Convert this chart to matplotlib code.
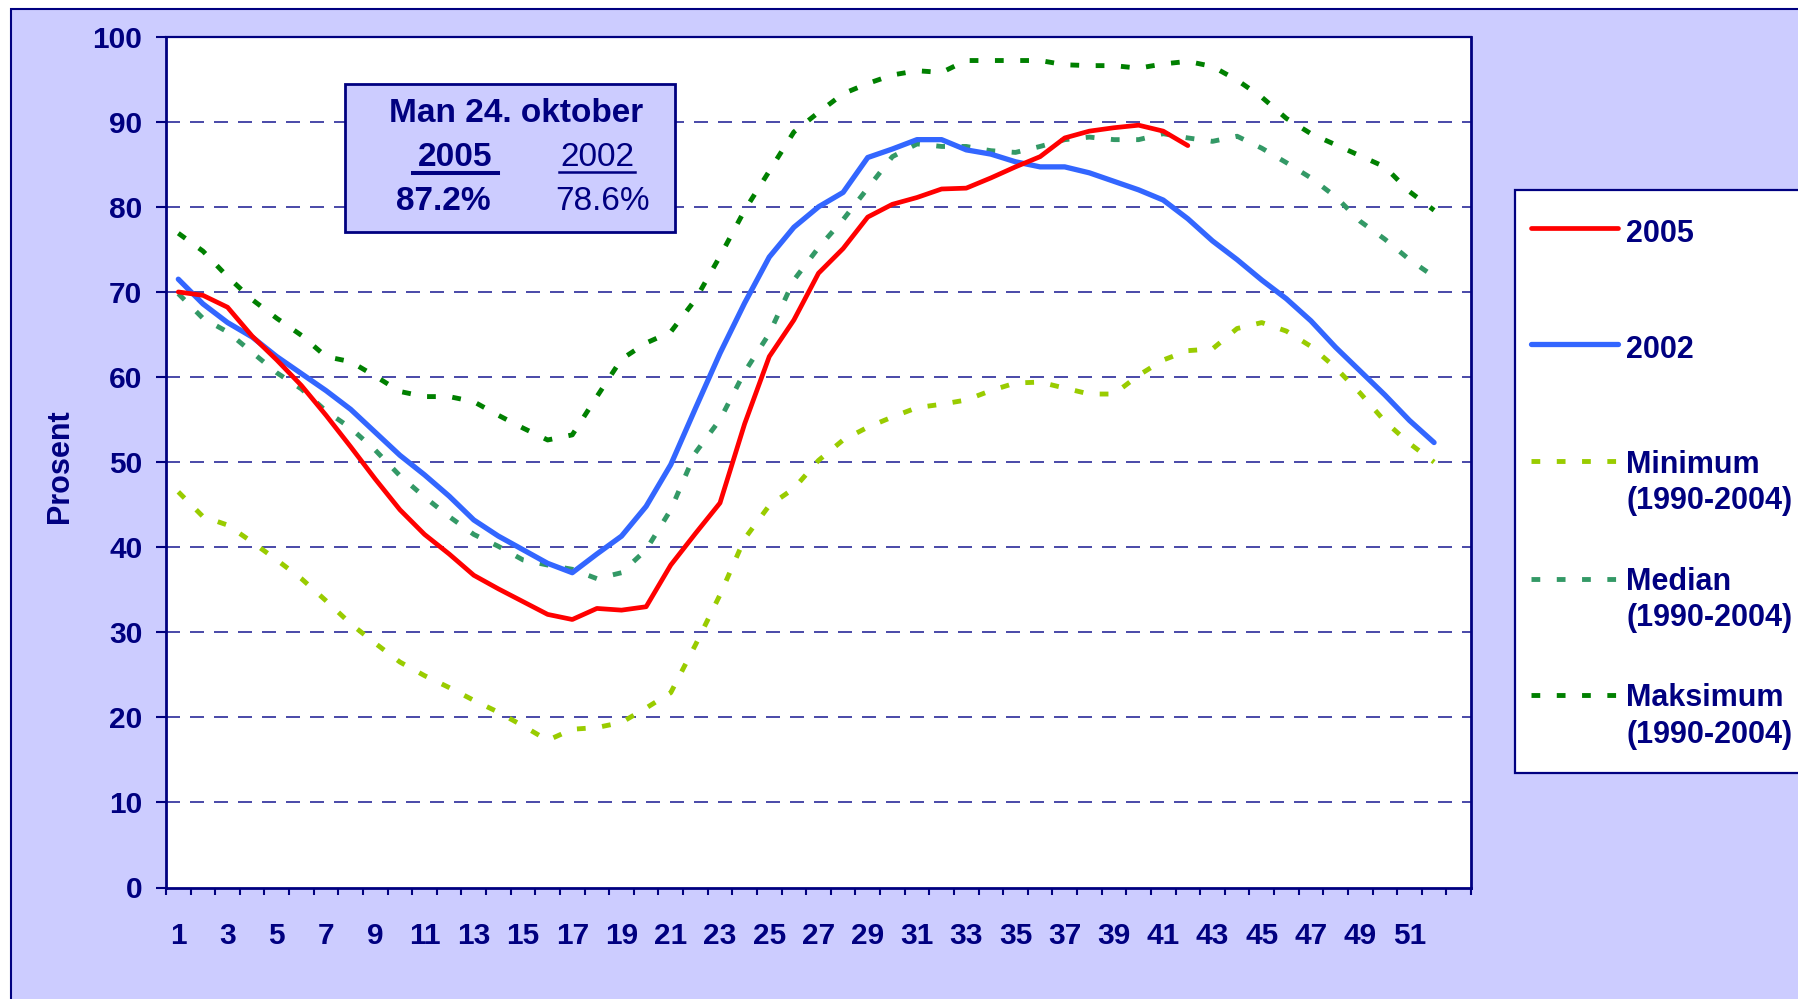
import numpy as np
import matplotlib
matplotlib.use("Agg")
import matplotlib.pyplot as plt
from matplotlib.patches import Rectangle
from matplotlib.lines import Line2D

plt.rcParams['font.family'] = ['Liberation Sans', 'DejaVu Sans']
plt.rcParams['font.weight'] = 'bold'

NAVY = "#000080"
LAVENDER = "#CCCCFF"

# fyllingsgrad per uke (prosent)
weeks = np.arange(1, 53)
weeks_2005 = np.arange(1, 43)

fill_2005 = [70.0, 69.6, 68.2, 64.8, 62.0, 59.0, 55.5, 51.8, 48.0, 44.4,
             41.5, 39.2, 36.7, 35.1, 33.6, 32.1, 31.5, 32.8, 32.6, 33.0,
             37.9, 41.6, 45.2, 54.5, 62.4, 66.7, 72.2, 75.1, 78.8, 80.3,
             81.1, 82.1, 82.2, 83.4, 84.7, 85.9, 88.1, 88.9, 89.3, 89.6,
             88.9, 87.2]

fill_2002 = [71.5, 68.6, 66.4, 64.7, 62.4, 60.4, 58.4, 56.2, 53.5, 50.8,
             48.5, 46.0, 43.2, 41.3, 39.7, 38.1, 37.0, 39.2, 41.3, 44.8,
             49.7, 56.3, 62.8, 68.7, 74.1, 77.6, 80.0, 81.7, 85.8, 86.8,
             87.9, 87.9, 86.7, 86.2, 85.3, 84.7, 84.7, 84.0, 83.0, 82.0,
             80.8, 78.6, 76.0, 73.8, 71.4, 69.2, 66.6, 63.5, 60.7, 57.9,
             54.9, 52.3]

fill_min = [46.5, 43.6, 42.6, 40.6, 38.5, 36.3, 33.7, 31.0, 28.7, 26.5,
            24.9, 23.5, 22.0, 20.6, 19.0, 17.3, 18.6, 18.8, 19.4, 21.1,
            22.9, 28.5, 34.4, 41.0, 44.9, 46.9, 50.2, 52.6, 54.1, 55.3,
            56.4, 56.8, 57.3, 58.4, 59.3, 59.4, 58.7, 58.0, 58.0, 60.2,
            62.0, 63.1, 63.3, 65.7, 66.4, 65.4, 63.6, 61.1, 58.1, 54.8,
            52.2, 50.0]

fill_median = [69.8, 66.9, 65.3, 62.9, 60.5, 58.6, 56.0, 54.0, 51.4, 48.4,
               45.9, 43.6, 41.5, 40.1, 38.5, 37.9, 37.4, 36.3, 37.0, 39.7,
               44.4, 51.1, 55.0, 60.6, 65.1, 71.4, 75.2, 78.5, 82.2, 85.9,
               87.4, 87.1, 87.1, 86.6, 86.4, 87.1, 87.9, 88.2, 87.9, 87.9,
               88.6, 88.1, 87.7, 88.3, 86.9, 85.2, 83.4, 81.2, 78.3, 76.2,
               73.8, 71.8]

fill_max = [76.9, 74.8, 71.8, 69.1, 66.9, 64.9, 62.4, 61.8, 60.1, 58.3,
            57.7, 57.7, 57.1, 55.5, 54.0, 52.6, 53.2, 57.7, 62.1, 64.0,
            65.3, 69.1, 74.2, 79.6, 84.2, 88.8, 91.1, 93.3, 94.5, 95.5,
            96.0, 95.8, 97.2, 97.2, 97.2, 97.2, 96.7, 96.6, 96.6, 96.3,
            96.8, 97.1, 96.5, 94.9, 92.9, 90.4, 88.6, 87.3, 86.0, 84.7,
            81.8, 79.6]

W, H = 1798, 999


def fx(x):
    return x / W


def fy(y):
    return 1 - y / H


fig = plt.figure(figsize=(W / 100, H / 100), dpi=100, facecolor="white")

# lilla bakgrunn rundt diagrammet
fig.add_artist(Rectangle((fx(11), fy(1100)), 2, fy(9) - fy(1100),
                         transform=fig.transFigure, facecolor=LAVENDER,
                         edgecolor=NAVY, lw=1.5, zorder=-5))

ax = fig.add_axes([fx(166), fy(887.5), (1471 - 166) / W, (887.5 - 36.7) / H])
ax.set_facecolor("white")

dash = (0, (1.8, 3.4))
ax.plot(weeks, fill_min, color="#99CC00", lw=3.5, linestyle=dash, zorder=3)
ax.plot(weeks, fill_median, color="#339966", lw=3.5, linestyle=dash, zorder=3)
ax.plot(weeks, fill_max, color="#008000", lw=3.5, linestyle=dash, zorder=3)
ax.plot(weeks, fill_2002, color="#3366FF", lw=3.8, zorder=4,
        solid_capstyle="round", solid_joinstyle="round")
ax.plot(weeks_2005, fill_2005, color="#FF0000", lw=3.4, zorder=5,
        solid_capstyle="round", solid_joinstyle="round")

for v in range(10, 100, 10):
    ax.axhline(v, color="#2a2a99", lw=1.2, linestyle=(0, (8.4, 6.0)), zorder=1)

ax.set_xlim(0.5, 53.5)
ax.set_ylim(0, 100)
ax.set_yticks(range(0, 101, 10))
ax.set_xticks(range(1, 52, 2))
ax.set_xticks(np.arange(0.5, 54, 1), minor=True)
ax.tick_params(axis="x", which="major", length=0, pad=24.5, labelsize=21.5,
               labelcolor=NAVY)
ax.tick_params(axis="x", which="minor", length=5, width=1.5, color=NAVY,
               direction="out")
ax.tick_params(axis="y", length=7, width=1.5, color=NAVY, pad=10,
               labelsize=21.5, labelcolor=NAVY)

for side in ["left", "bottom", "right"]:
    ax.spines[side].set_color(NAVY)
    ax.spines[side].set_linewidth(2.0)
ax.spines["top"].set_color(NAVY)
ax.spines["top"].set_linewidth(1.6)

ax.set_ylabel("Prosent", fontsize=22, color=NAVY, fontweight="bold")
ax.yaxis.label.set_va("center")
ax.yaxis.set_label_coords((60 - 166) / 1305, (887.5 - 466.5) / (887.5 - 36.7))

# infoboks
fig.add_artist(Rectangle((fx(345), fy(232)), (675 - 345) / W, (232 - 84) / H,
                         transform=fig.transFigure, facecolor=LAVENDER,
                         edgecolor=NAVY, lw=2.0, zorder=6))
fig.text(fx(516), fy(122), "Man 24. oktober", ha="center", va="baseline",
         fontsize=24, color=NAVY, fontweight="bold", zorder=7)
fig.text(fx(455), fy(166), "2005", ha="center", va="baseline",
         fontsize=24, color=NAVY, fontweight="bold", zorder=7)
fig.text(fx(597), fy(166), "2002", ha="center", va="baseline",
         fontsize=24, color=NAVY, fontweight="normal", zorder=7)
fig.add_artist(Line2D([fx(413), fx(498)], [fy(173), fy(173)],
                      transform=fig.transFigure, color=NAVY, lw=2.9, zorder=7))
fig.add_artist(Line2D([fx(559), fx(635)], [fy(172), fy(172)],
                      transform=fig.transFigure, color=NAVY, lw=1.8, zorder=7))
fig.text(fx(443), fy(210), "87.2%", ha="center", va="baseline",
         fontsize=24, color=NAVY, fontweight="bold", zorder=7)
fig.text(fx(603), fy(210), "78.6%", ha="center", va="baseline",
         fontsize=24, color=NAVY, fontweight="normal", zorder=7)

# forklaring
fig.add_artist(Rectangle((fx(1515), fy(773)), 2, (773 - 190) / H,
                         transform=fig.transFigure, facecolor="white",
                         edgecolor=NAVY, lw=1.6, zorder=6))

legend_items = [
    ("#FF0000", 3.4, "-", 228, ["2005"], [242]),
    ("#3366FF", 3.8, "-", 344, ["2002"], [357.5]),
    ("#99CC00", 3.5, dash, 461, ["Minimum", "(1990-2004)"], [473, 509]),
    ("#339966", 3.5, dash, 579, ["Median", "(1990-2004)"], [590, 626]),
    ("#008000", 3.5, dash, 695, ["Maksimum", "(1990-2004)"], [706, 742.5]),
]
for color, lw, ls, ly, labels, bases in legend_items:
    fig.add_artist(Line2D([fx(1531), fx(1618)], [fy(ly), fy(ly)],
                          transform=fig.transFigure, color=color, lw=lw,
                          linestyle=ls, solid_capstyle="round", zorder=7))
    for text, base in zip(labels, bases):
        fig.text(fx(1626), fy(base), text, ha="left", va="baseline",
                 fontsize=22, color=NAVY, fontweight="bold", zorder=7)

fig.savefig("out.png", dpi=100)
